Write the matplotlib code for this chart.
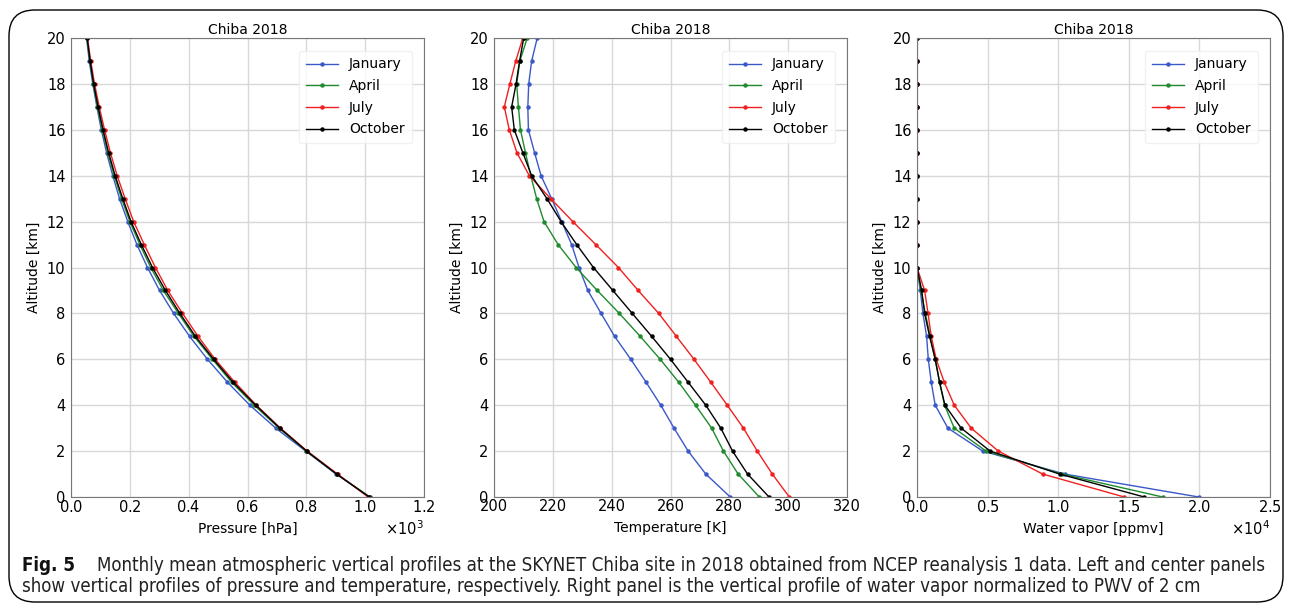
import matplotlib
matplotlib.use('Agg')
import matplotlib.pyplot as plt
from matplotlib.patches import FancyBboxPatch
from matplotlib.ticker import ScalarFormatter

# altitude levels [km]
altitude = list(range(0, 21))
months = ['January', 'April', 'July', 'October']
colors = ['#3a58c8', '#1f8a2e', '#f02020', 'black']

# pressure [hPa]
pres_jan = [1015, 901, 798, 696, 608, 532, 464, 403, 349, 301, 260, 224, 193, 165, 142, 121, 103, 88, 74, 62, 53]
pres_apr = [1016, 903, 800, 707, 623, 546, 481, 418, 365, 314, 271, 234, 200, 172, 147, 125, 106, 90, 76, 64, 54]
pres_jul = [1010, 906, 803, 712, 630, 557, 490, 432, 379, 329, 287, 249, 213, 184, 157, 134, 114, 96, 80, 67, 56]
pres_oct = [1014, 903, 801, 710, 628, 551, 485, 423, 370, 321, 277, 239, 204, 176, 150, 128, 109, 92, 77, 65, 55]

# temperature [K]
temp_jan = [280.3, 272.0, 266.0, 261.2, 256.7, 251.7, 246.5, 241.0, 236.4, 231.9, 228.9,
            226.4, 223.0, 219.6, 216.0, 213.8, 211.7, 211.5, 211.8, 212.8, 214.7]
temp_apr = [290.2, 283.0, 278.0, 274.0, 268.5, 262.8, 256.5, 249.7, 242.6, 235.1, 227.9,
            221.8, 217.0, 214.5, 212.5, 210.7, 209.0, 208.3, 207.7, 208.8, 211.3]
temp_jul = [300.4, 294.6, 289.5, 284.8, 279.3, 273.7, 268.0, 262.0, 256.0, 249.0, 242.3,
            234.6, 226.8, 219.3, 212.0, 207.8, 205.2, 203.5, 205.4, 207.4, 209.8]
temp_oct = [293.5, 286.2, 281.1, 277.1, 272.0, 266.0, 260.0, 253.6, 247.0, 240.4, 233.8,
            228.1, 222.8, 218.0, 212.8, 209.8, 206.9, 206.0, 207.5, 208.7, 210.1]

# water vapor [ppmv]
wv_jan = [19950, 10450, 4660, 2190, 1290, 1010, 800, 680, 420, 235, 0, 0, 0, 0, 0, 0, 0, 0, 0, 0, 0]
wv_apr = [17400, 10250, 4890, 2640, 1950, 1600, 1290, 940, 590, 280, 0, 0, 0, 0, 0, 0, 0, 0, 0, 0, 0]
wv_jul = [14680, 8900, 5760, 3840, 2640, 1930, 1360, 1010, 780, 540, 0, 0, 0, 0, 0, 0, 0, 0, 0, 0, 0]
wv_oct = [16100, 10100, 5180, 3130, 1980, 1600, 1290, 890, 540, 330, 0, 0, 0, 0, 0, 0, 0, 0, 0, 0, 0]

W, H = 1293, 605
fig = plt.figure(figsize=(W / 100, H / 100), dpi=100)

# rounded frame around figure + caption
frame = FancyBboxPatch((9 / W, 3 / H), (W - 19) / W, (H - 13) / H,
                       boxstyle='round,pad=0,rounding_size=0.02',
                       transform=fig.transFigure, fill=False,
                       edgecolor='black', linewidth=1.0, mutation_aspect=W / H)
fig.patches.append(frame)

panels = [
    ([pres_jan, pres_apr, pres_jul, pres_oct], 71, (0, 1200), 'Pressure [hPa]'),
    ([temp_jan, temp_apr, temp_jul, temp_oct], 494, (200, 320), 'Temperature [K]'),
    ([wv_jan, wv_apr, wv_jul, wv_oct], 917, (0, 25000), 'Water vapor [ppmv]'),
]

for series, left, xlim, xlabel in panels:
    ax = fig.add_axes([left / W, (H - 497) / H, 353 / W, 459 / H])
    for vals, name, c in zip(series, months, colors):
        ax.plot(vals, altitude, color=c, marker='o', markersize=2.2, linewidth=1.0, label=name)
    ax.set_xlim(*xlim)
    ax.set_ylim(0, 20)
    ax.set_yticks(range(0, 21, 2))
    if left == 71:
        ax.set_xticks([0, 200, 400, 600, 800, 1000, 1200])
    elif left == 917:
        ax.set_xticks([0, 5000, 10000, 15000, 20000, 25000])
    if left == 71 or left == 917:
        fmt = ScalarFormatter(useMathText=True)
        fmt.set_powerlimits((0, 0))
        ax.xaxis.set_major_formatter(fmt)
    ax.grid(True, color='#d8d8d8', linewidth=1.0)
    ax.set_axisbelow(True)
    for s in ax.spines.values():
        s.set_color('#777777')
    ax.tick_params(axis='x', length=0, pad=1.5, labelsize=10.5)
    ax.tick_params(axis='y', length=0, pad=4, labelsize=10.5)
    ax.xaxis.get_offset_text().set_fontsize(10.5)
    ax.set_title('Chiba 2018', fontsize=10, pad=3)
    ax.set_xlabel(xlabel, fontsize=10, labelpad=5)
    ax.set_ylabel('Altitude [km]', fontsize=10)
    ax.legend(loc='upper right', fontsize=10, handlelength=2.3, borderpad=0.5,
              labelspacing=0.55, borderaxespad=0.9, frameon=True, fancybox=True,
              edgecolor='#eeeeee')

# caption
cap_font = ['DejaVu Sans']
line1 = ('Monthly mean atmospheric vertical profiles at the SKYNET Chiba site in 2018 obtained '
         'from NCEP reanalysis 1 data. Left and center panels')
line2 = ('show vertical profiles of pressure and temperature, respectively. Right panel is the '
         'vertical profile of water vapor normalized to PWV of 2 cm')
tb = fig.text(22 / W, (H - 571) / H, 'Fig. 5', fontsize=12, fontweight='bold',
              family=cap_font, fontstretch='condensed', color='#111111')
t1 = fig.text(97 / W, (H - 571) / H, line1, fontsize=12, family=cap_font,
              fontstretch='condensed', color='#222222')
t2 = fig.text(22 / W, (H - 592) / H, line2, fontsize=12, family=cap_font,
              fontstretch='condensed', color='#222222')

fig.canvas.draw()
r = fig.canvas.get_renderer()
w1 = t1.get_window_extent(r).width
scale = (1262 - 97) / w1
for t in (tb, t1, t2):
    t.set_fontsize(12 * scale)

fig.savefig('out.png', dpi=100)
